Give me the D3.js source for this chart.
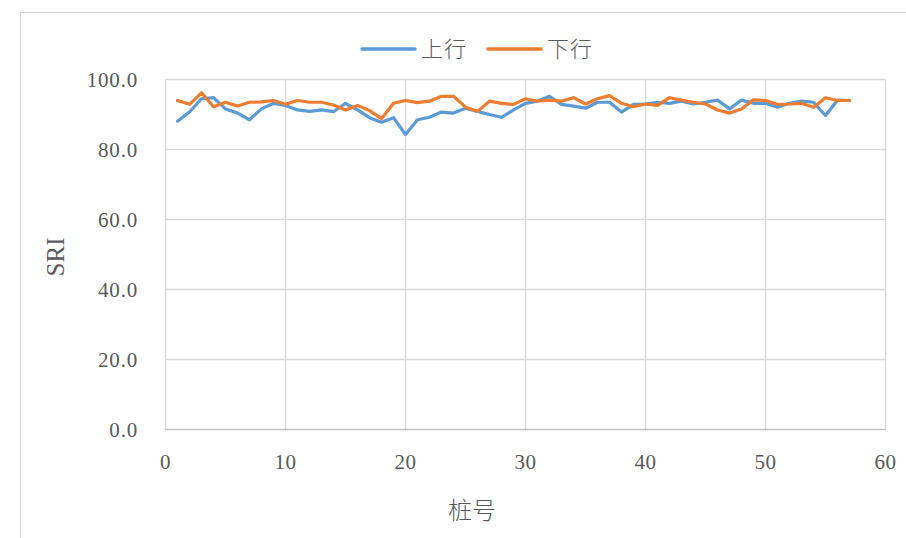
<!DOCTYPE html>
<html><head><meta charset="utf-8">
<script src="https://cdn.jsdelivr.net/npm/d3@7"></script>
<style>body{margin:0;background:#fff}svg{display:block}</style>
</head><body>
<svg id="c" width="906" height="538"></svg>
<script>
const stations = d3.range(1, 58);
const upValues = [88.1,90.7,94.5,94.8,91.6,90.4,88.5,91.6,93.2,92.6,91.3,90.9,91.3,90.8,93.2,91.3,89.1,87.8,89.1,84.3,88.5,89.2,90.7,90.4,91.8,90.9,90.0,89.2,91.3,93.2,93.8,95.2,92.9,92.4,91.8,93.5,93.5,90.7,92.9,93.0,93.5,93.2,93.8,93.0,93.5,94.1,91.6,94.1,93.2,93.2,92.1,93.2,93.8,93.5,89.7,94.1,94.0];
const downValues = [94.0,92.9,96.2,92.2,93.5,92.4,93.5,93.6,94.0,92.9,94.0,93.5,93.5,92.7,91.3,92.6,91.1,88.8,93.2,94.0,93.4,93.8,95.2,95.2,92.1,90.9,93.8,93.2,92.9,94.5,93.8,94.1,93.8,94.8,93.0,94.5,95.4,93.2,92.2,93.0,92.6,94.8,94.1,93.5,93.0,91.3,90.4,91.6,94.2,94.0,92.9,93.0,93.2,92.1,94.8,94.0,94.0];
const xTicks = [0,10,20,30,40,50,60];
const yTicks = [0,20,40,60,80,100];
const seriesNames = ["上行","下行"];
const colors = ["#5B9BD5","#ED7D31"];

const svg = d3.select("#c");
svg.append("rect").attr("x",20.5).attr("y",12.5).attr("width",900).attr("height",540)
  .attr("fill","#fff").attr("stroke","#d9d9d9").attr("stroke-width",1);

const x = d3.scaleLinear().domain([0,60]).range([165.5,885.5]);
const y = d3.scaleLinear().domain([0,100]).range([429.5,79.5]);

const g = svg.append("g");
g.selectAll(".hg").data(yTicks.filter(d=>d>0)).join("line")
  .attr("x1",x(0)).attr("x2",x(60)).attr("y1",d=>y(d)).attr("y2",d=>y(d))
  .attr("stroke","#d9d9d9").attr("stroke-width",1.5);
g.selectAll(".vg").data(xTicks).join("line")
  .attr("x1",d=>x(d)).attr("x2",d=>x(d)).attr("y1",y(0)).attr("y2",y(100))
  .attr("stroke","#d9d9d9").attr("stroke-width",1.5);
g.append("line").attr("x1",x(0)).attr("x2",x(60)).attr("y1",y(0)).attr("y2",y(0))
  .attr("stroke","#bfbfbf").attr("stroke-width",1.5);

const serif = "'Liberation Serif','Times New Roman',serif";
g.selectAll(".yl").data(yTicks).join("text")
  .attr("x",138).attr("y",d=>y(d)).attr("dy","0.35em").attr("text-anchor","end")
  .attr("font-family",serif).attr("font-size",21).attr("letter-spacing",0.8).attr("fill","#595959")
  .text(d=>d3.format(".1f")(d));
g.selectAll(".xl").data(xTicks).join("text")
  .attr("x",d=>x(d)).attr("y",462).attr("dy","0.35em").attr("text-anchor","middle")
  .attr("font-family",serif).attr("font-size",21).attr("letter-spacing",0.5).attr("fill","#595959")
  .text(d=>d);

svg.append("text").attr("transform","translate(55,257) rotate(-90)")
  .attr("text-anchor","middle").attr("dy","0.35em")
  .attr("font-family",serif).attr("font-size",25).attr("fill","#595959").text("SRI");
svg.append("text").attr("x",472).attr("y",511).attr("text-anchor","middle").attr("dy","0.35em")
  .attr("font-family","'Noto Sans CJK SC',sans-serif").attr("font-size",24).attr("font-weight",300).attr("fill","#595959").text("桩号");

const line = d3.line().x((d,i)=>x(stations[i])).y(d=>y(d));
[upValues, downValues].forEach((vals,k)=>{
  g.append("path").datum(vals).attr("d",line).attr("fill","none")
   .attr("stroke",colors[k]).attr("stroke-width",3.2).attr("stroke-linejoin","round").attr("stroke-linecap","round");
});

const lx = [362, 488];
seriesNames.forEach((n,k)=>{
  svg.append("line").attr("x1",lx[k]).attr("x2",lx[k]+53).attr("y1",49).attr("y2",49)
    .attr("stroke",colors[k]).attr("stroke-width",3.5).attr("stroke-linecap","round");
  svg.append("text").attr("x",lx[k]+59).attr("y",49).attr("dy","0.35em").attr("letter-spacing",1)
    .attr("font-family","'Noto Sans CJK SC',sans-serif").attr("font-size",22).attr("font-weight",300).attr("fill","#595959").text(n);
});
</script>
</body></html>
